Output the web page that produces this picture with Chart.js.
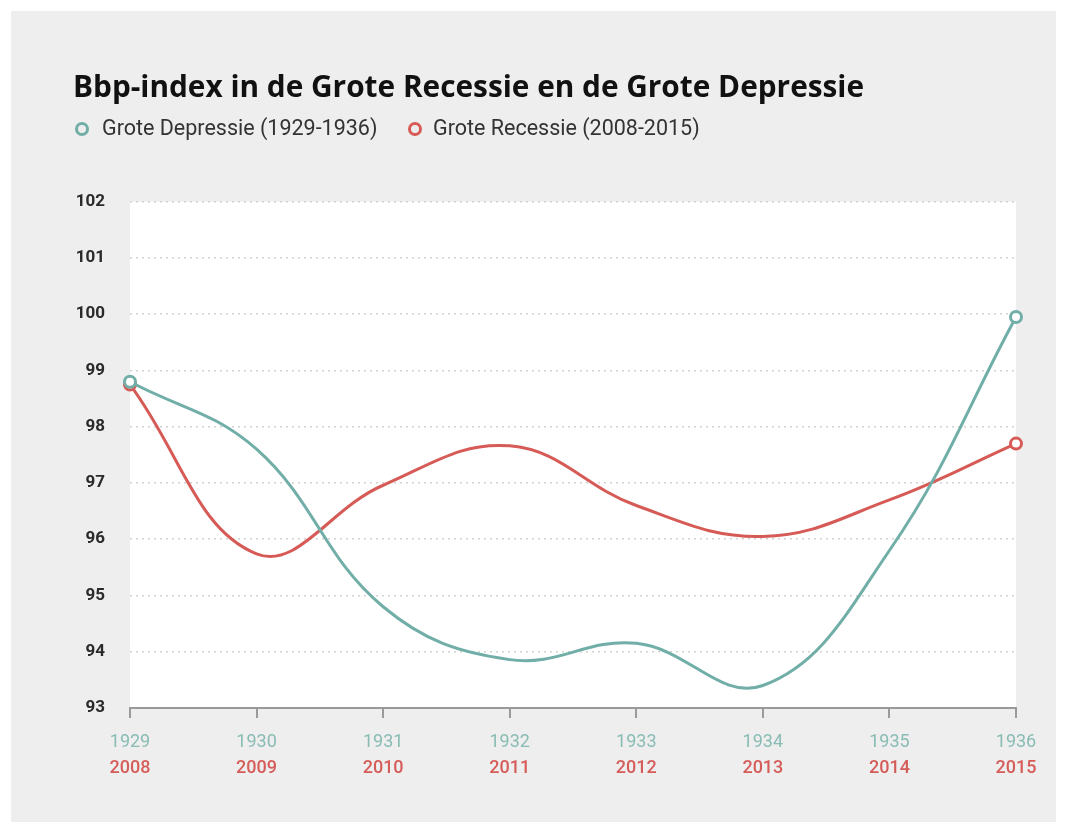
<!DOCTYPE html>
<html>
<head>
<meta charset="utf-8">
<script src="https://cdn.jsdelivr.net/npm/chart.js@4.4.1/dist/chart.umd.min.js"></script>
<style>
  html, body { margin: 0; padding: 0; background: #ffffff; }
  #box { position: absolute; left: 11px; top: 11px; width: 1045px; height: 811px; background: #efeeee; }
  #c { display: block; }
  #legend { position: absolute; left: 0; top: 0; font-family: Roboto, sans-serif; font-size: 21.5px; color: #333333; }
  .item { position: absolute; white-space: nowrap; line-height: 26px; }
  .mk { position: absolute; width: 8px; height: 8px; border-radius: 50%; border: 3px solid; background: #efeeee; }
</style>
</head>
<body>
<div id="box">
  <canvas id="c" width="1045" height="811"></canvas>
  <div id="legend"></div>
</div>
<script>
const depressionYears = ['1929','1930','1931','1932','1933','1934','1935','1936'];
const recessionYears  = ['2008','2009','2010','2011','2012','2013','2014','2015'];
const depressionValues = [98.8, 97.6, 94.8, 93.86, 94.15, 93.4, 95.8, 99.95];
const recessionValues  = [98.75, 95.74, 96.96, 97.66, 96.6, 96.05, 96.7, 97.7];
const yTicks = [93, 94, 95, 96, 97, 98, 99, 100, 101, 102];
const seriesNames = ['Grote Depressie (1929-1936)', 'Grote Recessie (2008-2015)'];

const GREEN = '#70aea7';
const RED = '#d65b57';
const GREEN_TXT = '#88bcb4';
const RED_TXT = '#d55d59';

// HTML legend (box-relative coordinates)
const legendPos = [{ mx: 71, tx: 91 }, { mx: 404, tx: 422 }];
const legendEl = document.getElementById('legend');
seriesNames.forEach((name, i) => {
  const col = i === 0 ? GREEN : RED;
  const mk = document.createElement('div');
  mk.className = 'mk';
  mk.style.borderColor = col;
  mk.style.left = (legendPos[i].mx - 7) + 'px';
  mk.style.top = (118 - 7) + 'px';
  legendEl.appendChild(mk);
  const it = document.createElement('div');
  it.className = 'item';
  it.textContent = name;
  it.style.left = legendPos[i].tx + 'px';
  it.style.top = (118 - 14) + 'px';
  legendEl.appendChild(it);
});

const endPoints = (ctx) => {
  const n = ctx.dataset.data.length;
  return (ctx.dataIndex === 0 || ctx.dataIndex === n - 1) ? 5.5 : 0;
};

const plotBg = {
  id: 'plotBg',
  beforeDraw(chart) {
    const {ctx, chartArea: a} = chart;
    ctx.save();
    ctx.fillStyle = '#ffffff';
    ctx.fillRect(a.left, a.top, a.right - a.left, a.bottom - a.top);
    ctx.restore();
  }
};

new Chart(document.getElementById('c'), {
  type: 'line',
  data: {
    labels: depressionYears,
    datasets: [
      {
        label: seriesNames[0],
        data: depressionValues,
        borderColor: GREEN,
        backgroundColor: '#ffffff',
        borderWidth: 3,
        tension: 0.4,
        pointRadius: endPoints,
        pointHoverRadius: endPoints,
        pointBorderWidth: 3,
        pointBackgroundColor: '#ffffff',
        pointBorderColor: GREEN,
        clip: false
      },
      {
        label: seriesNames[1],
        data: recessionValues,
        borderColor: RED,
        backgroundColor: '#ffffff',
        borderWidth: 3,
        tension: 0.4,
        pointRadius: endPoints,
        pointHoverRadius: endPoints,
        pointBorderWidth: 3,
        pointBackgroundColor: '#ffffff',
        pointBorderColor: RED,
        clip: false
      }
    ]
  },
  options: {
    responsive: false,
    animation: false,
    layout: { padding: { left: 62, right: 40, top: 0, bottom: 31 } },
    plugins: {
      tooltip: { enabled: false },
      legend: { display: false },
      title: {
        display: true,
        text: 'Bbp-index in de Grote Recessie en de Grote Depressie',
        align: 'start',
        color: '#111111',
        font: { family: 'Open Sans', size: 29.8, weight: 'bold', lineHeight: 1.3 },
        padding: { top: 58, bottom: 94 }
      }
    },
    scales: {
      x: {
        type: 'category',
        position: 'bottom',
        offset: false,
        grid: { display: true, drawOnChartArea: false, drawTicks: true, tickLength: 10, color: '#9a9a9a', lineWidth: 2 },
        border: { display: true, color: '#9a9a9a', width: 2 },
        ticks: { color: GREEN_TXT, font: { family: 'Roboto', size: 18 }, padding: 14, maxRotation: 0, autoSkip: false },
        afterFit(axis) { axis.height = 45; }
      },
      x2: {
        type: 'category',
        position: 'bottom',
        labels: recessionYears,
        offset: false,
        grid: { display: false, drawTicks: false },
        border: { display: false },
        ticks: { color: RED_TXT, font: { family: 'Roboto', size: 18, weight: '500' }, padding: 5, maxRotation: 0, autoSkip: false },
        afterFit(axis) { axis.height = 38; }
      },
      y: {
        min: 93,
        max: 102,
        afterBuildTicks(axis) { axis.ticks = yTicks.map(v => ({ value: v })); },
        afterFit(axis) { axis.width = 57; },
        grid: { color: '#d2d2d2', lineWidth: 1.5, drawTicks: false },
        border: { display: false, dash: [2, 4] },
        ticks: { color: '#2a2a2a', font: { family: 'Roboto', size: 17, weight: 'bold' }, padding: 25 }
      }
    }
  },
  plugins: [plotBg]
});
</script>
</body>
</html>
